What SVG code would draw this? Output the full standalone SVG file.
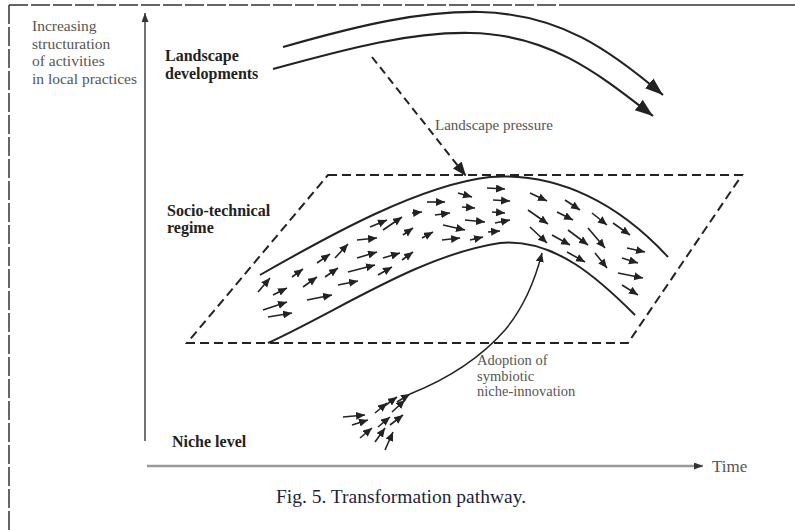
<svg xmlns="http://www.w3.org/2000/svg" width="795" height="530" viewBox="0 0 795 530">
<style>
.lbl{font-family:"Liberation Serif","Times New Roman",serif;fill:#555}
.bold{font-family:"Liberation Serif","Times New Roman",serif;font-weight:bold;fill:#222;font-size:16px}
.sm{stroke:#222;stroke-width:1.6;fill:none;marker-end:url(#sa)}
.band{stroke:#222;stroke-width:2;fill:none}
</style>
<defs>
<marker id="sa" markerUnits="userSpaceOnUse" markerWidth="10" markerHeight="9" refX="9" refY="4" orient="auto">
<path d="M0,0 L9,4 L0,8 z" fill="#222"/>
</marker>
<marker id="big" markerUnits="userSpaceOnUse" markerWidth="20" markerHeight="14" refX="18" refY="6.5" orient="auto">
<path d="M0,0 L18,6.5 L0,13 z" fill="#222"/>
</marker>
<marker id="ax" markerUnits="userSpaceOnUse" markerWidth="10" markerHeight="8" refX="9" refY="3.5" orient="auto">
<path d="M0,0 L9,3.5 L0,7 z" fill="#333"/>
</marker>
<marker id="pr" markerUnits="userSpaceOnUse" markerWidth="15" markerHeight="12" refX="14" refY="5.5" orient="auto">
<path d="M0,0 L14,5.5 L0,11 z" fill="#222"/>
</marker>
</defs>
<rect width="795" height="530" fill="#fff"/>

<g id="frame">
<line x1="9" y1="5" x2="560" y2="5" stroke="#333" stroke-width="1.5" stroke-dasharray="19 3"/>
<line x1="560" y1="5" x2="795" y2="5" stroke="#333" stroke-width="1.5"/>
<line x1="9" y1="5" x2="9" y2="530" stroke="#333" stroke-width="1.5" stroke-dasharray="19 3"/>
</g>

<g id="axes">
<line x1="145" y1="441" x2="145" y2="13" stroke="#444" stroke-width="1.5" marker-end="url(#ax)"/>
<line x1="147" y1="466" x2="703" y2="466" stroke="#999" stroke-width="2.5" marker-end="url(#ax)"/>
</g>

<g id="y-label">
<text class="lbl" font-size="15.5" x="32" y="31">Increasing</text>
<text class="lbl" font-size="15.5" x="32" y="48.5">structuration</text>
<text class="lbl" font-size="15.5" x="32" y="66">of activities</text>
<text class="lbl" font-size="15.5" x="32" y="83.5">in local practices</text>
</g>

<g id="time-label">
<text class="lbl" font-size="17" x="712" y="472" fill="#444">Time</text>
</g>

<g id="landscape">
<text class="bold" x="165" y="61">Landscape</text>
<text class="bold" x="165" y="79">developments</text>
<path d="M283,47 C360,25 420,11 480,12 C560,14 610,50 663,95" stroke="#222" stroke-width="2.2" fill="none" marker-end="url(#big)"/>
<path d="M273,69 C350,48 410,32 470,33 C550,34 600,75 653,116" stroke="#222" stroke-width="2.2" fill="none" marker-end="url(#big)"/>
</g>

<g id="regime">
<text class="bold" x="167" y="216">Socio-technical</text>
<text class="bold" x="167" y="233">regime</text>
<path d="M328,175 L742,175 L628,343 L187,343 Z" fill="none" stroke="#222" stroke-width="2" stroke-dasharray="9 5"/>
<path class="band" d="M260,275 C330,235 420,185 490,177 C560,172 620,205 668,257"/>
<path class="band" d="M268,343 C340,310 420,255 500,243 C555,238 600,280 635,315"/>
<g id="regime-arrows">
<line class="sm" x1="258" y1="292" x2="270" y2="278"/>
<line class="sm" x1="273" y1="295" x2="287" y2="288"/>
<line class="sm" x1="263" y1="310" x2="287" y2="302"/>
<line class="sm" x1="268" y1="317" x2="292" y2="313"/>
<line class="sm" x1="292" y1="277" x2="303" y2="269"/>
<line class="sm" x1="303" y1="287" x2="317" y2="277"/>
<line class="sm" x1="307" y1="300" x2="332" y2="295"/>
<line class="sm" x1="317" y1="263" x2="330" y2="254"/>
<line class="sm" x1="325" y1="277" x2="338" y2="268"/>
<line class="sm" x1="335" y1="258" x2="348" y2="244"/>
<line class="sm" x1="338" y1="285" x2="358" y2="281"/>
<line class="sm" x1="348" y1="272" x2="375" y2="265"/>
<line class="sm" x1="357" y1="240" x2="377" y2="238"/>
<line class="sm" x1="357" y1="258" x2="377" y2="252"/>
<line class="sm" x1="370" y1="227" x2="387" y2="220"/>
<line class="sm" x1="378" y1="275" x2="392" y2="267"/>
<line class="sm" x1="383" y1="230" x2="402" y2="217"/>
<line class="sm" x1="383" y1="258" x2="400" y2="253"/>
<line class="sm" x1="402" y1="260" x2="413" y2="252"/>
<line class="sm" x1="403" y1="235" x2="413" y2="228"/>
<line class="sm" x1="412" y1="213" x2="422" y2="212"/>
<line class="sm" x1="427" y1="202" x2="445" y2="202"/>
<line class="sm" x1="435" y1="215" x2="450" y2="213"/>
<line class="sm" x1="422" y1="238" x2="433" y2="232"/>
<line class="sm" x1="443" y1="225" x2="465" y2="230"/>
<line class="sm" x1="442" y1="240" x2="460" y2="238"/>
<line class="sm" x1="458" y1="193" x2="472" y2="197"/>
<line class="sm" x1="462" y1="207" x2="475" y2="208"/>
<line class="sm" x1="465" y1="220" x2="485" y2="222"/>
<line class="sm" x1="470" y1="240" x2="483" y2="237"/>
<line class="sm" x1="487" y1="188" x2="505" y2="189"/>
<line class="sm" x1="493" y1="200" x2="510" y2="201"/>
<line class="sm" x1="492" y1="212" x2="505" y2="213"/>
<line class="sm" x1="495" y1="223" x2="510" y2="220"/>
<line class="sm" x1="488" y1="232" x2="500" y2="231"/>
<line class="sm" x1="530" y1="193" x2="547" y2="201"/>
<line class="sm" x1="528" y1="210" x2="548" y2="224"/>
<line class="sm" x1="530" y1="227" x2="547" y2="243"/>
<line class="sm" x1="565" y1="200" x2="580" y2="210"/>
<line class="sm" x1="557" y1="212" x2="573" y2="220"/>
<line class="sm" x1="552" y1="235" x2="570" y2="245"/>
<line class="sm" x1="568" y1="230" x2="588" y2="245"/>
<line class="sm" x1="567" y1="252" x2="585" y2="262"/>
<line class="sm" x1="592" y1="213" x2="607" y2="225"/>
<line class="sm" x1="588" y1="228" x2="605" y2="248"/>
<line class="sm" x1="613" y1="223" x2="630" y2="235"/>
<line class="sm" x1="595" y1="253" x2="607" y2="268"/>
<line class="sm" x1="627" y1="248" x2="645" y2="252"/>
<line class="sm" x1="622" y1="258" x2="638" y2="263"/>
<line class="sm" x1="618" y1="273" x2="643" y2="278"/>
<line class="sm" x1="622" y1="285" x2="638" y2="295"/>
</g>
</g>

<g id="niche">
<text class="bold" x="172" y="447">Niche level</text>
<line class="sm" x1="343" y1="417" x2="365" y2="415"/>
<line class="sm" x1="352" y1="425" x2="368" y2="420"/>
<line class="sm" x1="360" y1="438" x2="372" y2="428"/>
<line class="sm" x1="375" y1="413" x2="387" y2="403"/>
<line class="sm" x1="378" y1="427" x2="390" y2="417"/>
<line class="sm" x1="375" y1="442" x2="385" y2="428"/>
<line class="sm" x1="385" y1="450" x2="393" y2="432"/>
<line class="sm" x1="383" y1="407" x2="397" y2="397"/>
<line class="sm" x1="392" y1="412" x2="405" y2="400"/>
<line class="sm" x1="390" y1="425" x2="403" y2="415"/>
<line class="sm" x1="397" y1="402" x2="410" y2="394"/>
</g>

<g id="connectors">
<line x1="372" y1="57" x2="466" y2="176" stroke="#222" stroke-width="2" stroke-dasharray="8 5" marker-end="url(#pr)"/>
<path d="M410,394 Q470,370 505,330 Q530,300 542,253" stroke="#222" stroke-width="1.5" fill="none" marker-end="url(#sa)"/>
</g>

<g id="connector-labels">
<text class="lbl" font-size="15" x="435" y="130">Landscape pressure</text>
<text class="lbl" font-size="14.5" x="477" y="365">Adoption of</text>
<text class="lbl" font-size="14.5" x="477" y="380.5">symbiotic</text>
<text class="lbl" font-size="14.5" x="477" y="396">niche-innovation</text>
</g>

<g id="caption">
<text x="401" y="503" text-anchor="middle" font-family="Liberation Serif,Times New Roman,serif" font-size="19.5" fill="#1e1e3c">Fig. 5.  Transformation pathway.</text>
</g>
</svg>
